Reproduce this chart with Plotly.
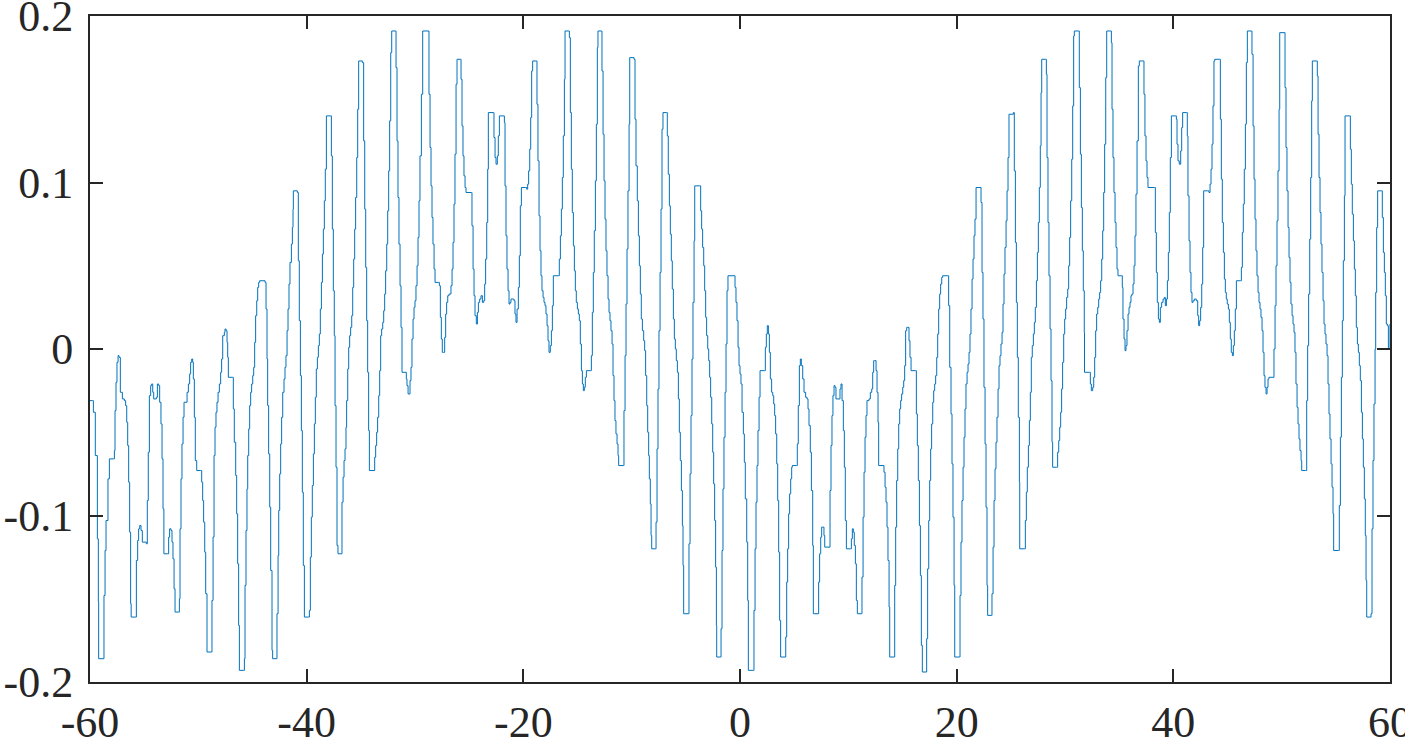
import plotly.graph_objects as go

# Signal, split by x range (x, value)
seg_a = [(-60.0, -0.031), (-59.78, -0.031), (-59.69, -0.038), (-59.51, -0.064), (-59.32, -0.114), (-59.23, -0.152),
         (-59.20, -0.186), (-58.80, -0.186), (-58.71, -0.148), (-58.61, -0.121), (-58.52, -0.103), (-58.34, -0.078),
         (-58.21, -0.066), (-57.84, -0.066), (-57.75, -0.061), (-57.69, -0.037), (-57.60, -0.020), (-57.51, -0.008),
         (-57.41, -0.004), (-57.32, -0.005), (-57.20, -0.026), (-57.01, -0.030), (-56.83, -0.031), (-56.71, -0.034),
         (-56.61, -0.044), (-56.52, -0.058), (-56.43, -0.080), (-56.34, -0.110), (-56.25, -0.153), (-56.20, -0.161),
         (-55.81, -0.161), (-55.72, -0.127), (-55.60, -0.115), (-55.51, -0.108), (-55.41, -0.106), (-55.29, -0.109),
         (-55.17, -0.116), (-54.80, -0.117), (-54.71, -0.091), (-54.62, -0.062), (-54.52, -0.028), (-54.40, -0.022),
         (-54.31, -0.021), (-54.21, -0.026), (-54.12, -0.030), (-53.88, -0.029), (-53.78, -0.021), (-53.66, -0.022),
         (-53.57, -0.032), (-53.45, -0.045), (-53.35, -0.066), (-53.26, -0.096), (-53.18, -0.123), (-52.83, -0.123),
         (-52.74, -0.113), (-52.65, -0.108), (-52.52, -0.109), (-52.43, -0.116), (-52.34, -0.126), (-52.24, -0.144),
         (-52.15, -0.158), (-51.85, -0.158), (-51.75, -0.150), (-51.69, -0.108), (-51.60, -0.078), (-51.51, -0.057),
         (-51.41, -0.041), (-51.32, -0.032), (-51.04, -0.026), (-50.92, -0.021), (-50.80, -0.015), (-50.71, -0.008),
         (-50.61, -0.006), (-50.52, -0.008), (-50.46, -0.018), (-50.37, -0.041), (-50.28, -0.067), (-50.15, -0.073),
         (-49.78, -0.073), (-49.69, -0.080), (-49.60, -0.091), (-49.51, -0.104), (-49.41, -0.122), (-49.32, -0.147),
         (-49.20, -0.182), (-48.80, -0.182), (-48.74, -0.151), (-48.64, -0.113), (-48.55, -0.064), (-48.46, -0.047),
         (-48.37, -0.038), (-48.28, -0.032), (-48.18, -0.026), (-48.06, -0.021), (-47.94, -0.014), (-47.85, -0.006)]

seg_b = [(-47.75, 0.008), (-47.60, 0.010), (-47.54, 0.012), (-47.44, 0.011), (-47.35, 0.004), (-47.29, -0.005),
         (-47.23, -0.017), (-46.86, -0.017), (-46.77, -0.036), (-46.68, -0.056), (-46.55, -0.076), (-46.46, -0.099),
         (-46.37, -0.129), (-46.28, -0.166), (-46.21, -0.193), (-45.81, -0.193), (-45.75, -0.186), (-45.69, -0.142),
         (-45.60, -0.109), (-45.51, -0.084), (-45.44, -0.064), (-45.35, -0.048), (-45.26, -0.034), (-45.17, -0.026),
         (-45.08, -0.021), (-44.98, -0.016), (-44.89, -0.011), (-44.80, 0.004), (-44.71, 0.020), (-44.61, 0.029),
         (-44.52, 0.037), (-44.43, 0.040), (-44.34, 0.041), (-43.84, 0.040), (-43.75, 0.024), (-43.66, -0.006),
         (-43.60, -0.034), (-43.51, -0.063), (-43.41, -0.095), (-43.32, -0.133), (-43.20, -0.181), (-43.14, -0.186),
         (-42.80, -0.186), (-42.74, -0.159), (-42.64, -0.124), (-42.58, -0.097), (-42.49, -0.075), (-42.40, -0.057),
         (-42.31, -0.041), (-42.21, -0.026), (-42.09, -0.018), (-42.00, -0.011), (-41.91, -0.004), (-41.81, 0.011),
         (-41.72, 0.024), (-41.63, 0.039), (-41.54, 0.052), (-41.41, 0.063), (-41.32, 0.073), (-41.26, 0.084),
         (-41.23, 0.095), (-40.86, 0.094), (-40.77, 0.053), (-40.68, 0.017), (-40.58, -0.016), (-40.49, -0.049),
         (-40.40, -0.086), (-40.31, -0.130), (-40.21, -0.161), (-39.85, -0.161), (-39.75, -0.157), (-39.66, -0.125),
         (-39.57, -0.101), (-39.48, -0.082), (-39.38, -0.063), (-39.29, -0.045), (-39.20, -0.029), (-39.11, -0.012),
         (-39.01, -0.005), (-38.92, 0.002), (-38.83, 0.009), (-38.74, 0.024), (-38.64, 0.040), (-38.55, 0.057),
         (-38.46, 0.072), (-38.37, 0.089), (-38.28, 0.108), (-38.18, 0.140), (-37.81, 0.140), (-37.72, 0.116),
         (-37.63, 0.072), (-37.54, 0.035), (-37.45, 0.008), (-37.38, -0.034), (-37.29, -0.071), (-37.20, -0.118),
         (-37.11, -0.123), (-36.83, -0.123), (-36.74, -0.092), (-36.64, -0.077), (-36.55, -0.067)]

seg_c = [(-36.46, -0.060), (-36.37, -0.047), (-36.31, -0.031), (-36.21, -0.012), (-36.12, 0.001), (-36.03, 0.008),
         (-35.94, 0.013), (-35.84, 0.020), (-35.75, 0.037), (-35.66, 0.054), (-35.57, 0.072), (-35.48, 0.091),
         (-35.38, 0.115), (-35.29, 0.144), (-35.20, 0.173), (-34.86, 0.172), (-34.74, 0.125), (-34.64, 0.084),
         (-34.55, 0.049), (-34.46, 0.017), (-34.37, -0.014), (-34.28, -0.049), (-34.21, -0.073), (-33.78, -0.073),
         (-33.72, -0.065), (-33.63, -0.058), (-33.54, -0.050), (-33.45, -0.041), (-33.35, -0.028), (-33.26, -0.013),
         (-33.17, 0.008), (-33.08, 0.012), (-32.98, 0.016), (-32.89, 0.023), (-32.80, 0.033), (-32.71, 0.047),
         (-32.61, 0.063), (-32.52, 0.083), (-32.43, 0.107), (-32.34, 0.137), (-32.24, 0.178), (-32.15, 0.191),
         (-31.81, 0.191), (-31.75, 0.169), (-31.66, 0.125), (-31.57, 0.091), (-31.48, 0.063), (-31.38, 0.038),
         (-31.29, 0.013), (-31.20, -0.014), (-30.80, -0.018), (-30.74, -0.022), (-30.64, -0.027), (-30.46, -0.019),
         (-30.37, -0.011), (-30.28, 0.006), (-30.18, 0.018), (-30.09, 0.025), (-30.00, 0.029), (-29.91, 0.038),
         (-29.81, 0.050), (-29.72, 0.067), (-29.63, 0.089), (-29.54, 0.116), (-29.41, 0.153), (-29.29, 0.191),
         (-28.80, 0.191), (-28.71, 0.153), (-28.61, 0.121), (-28.52, 0.098), (-28.43, 0.079), (-28.34, 0.063),
         (-28.24, 0.048), (-28.15, 0.040), (-27.85, 0.040), (-27.75, 0.038), (-27.66, 0.019), (-27.57, 0.006),
         (-27.48, -0.002), (-27.35, -0.002), (-27.26, 0.007), (-27.17, 0.021), (-27.08, 0.028), (-26.98, 0.032),
         (-26.86, 0.033), (-26.68, 0.038), (-26.58, 0.048), (-26.49, 0.064), (-26.40, 0.087), (-26.31, 0.117),
         (-26.21, 0.159), (-26.12, 0.174), (-25.81, 0.174), (-25.75, 0.162), (-25.66, 0.134), (-25.57, 0.116),
         (-25.48, 0.104), (-25.38, 0.097), (-25.29, 0.094), (-24.80, 0.094), (-24.74, 0.074), (-24.64, 0.048),
         (-24.55, 0.032)]

seg_d = [(-24.46, 0.020), (-24.34, 0.015), (-24.24, 0.022), (-24.15, 0.028), (-24.03, 0.030), (-23.91, 0.032),
         (-23.78, 0.028), (-23.66, 0.029), (-23.57, 0.039), (-23.48, 0.054), (-23.38, 0.076), (-23.29, 0.108),
         (-23.23, 0.142), (-22.77, 0.142), (-22.71, 0.127), (-22.61, 0.115), (-22.52, 0.111), (-22.40, 0.116),
         (-22.31, 0.128), (-22.21, 0.140), (-21.88, 0.140), (-21.75, 0.136), (-21.69, 0.098), (-21.60, 0.068),
         (-21.51, 0.048), (-21.41, 0.035), (-21.32, 0.027), (-21.23, 0.028), (-21.14, 0.030), (-20.86, 0.029),
         (-20.77, 0.021), (-20.68, 0.016), (-20.58, 0.024), (-20.46, 0.037), (-20.37, 0.056), (-20.28, 0.086),
         (-20.18, 0.097), (-19.78, 0.097), (-19.69, 0.096), (-19.60, 0.099), (-19.51, 0.107), (-19.41, 0.120),
         (-19.32, 0.139), (-19.23, 0.167), (-19.14, 0.173), (-18.80, 0.173), (-18.74, 0.147), (-18.65, 0.113),
         (-18.55, 0.080), (-18.46, 0.059), (-18.37, 0.044), (-18.28, 0.035), (-18.18, 0.031), (-18.09, 0.028),
         (-18.00, 0.026), (-17.91, 0.021), (-17.81, 0.014), (-17.72, 0.005), (-17.63, -0.002), (-17.51, 0.002),
         (-17.41, 0.011), (-17.32, 0.026), (-17.23, 0.044), (-16.77, 0.044), (-16.68, 0.054), (-16.58, 0.068),
         (-16.49, 0.084), (-16.40, 0.103), (-16.31, 0.128), (-16.21, 0.162), (-16.15, 0.191), (-15.81, 0.191),
         (-15.75, 0.187), (-15.66, 0.142), (-15.57, 0.108), (-15.48, 0.082), (-15.38, 0.062), (-15.29, 0.047),
         (-15.20, 0.035), (-15.11, 0.028), (-15.01, 0.024), (-14.92, 0.021), (-14.83, 0.017), (-14.74, 0.003),
         (-14.64, -0.013), (-14.55, -0.021), (-14.46, -0.025), (-14.37, -0.023), (-14.28, -0.017), (-14.18, -0.013),
         (-13.81, -0.013), (-13.72, -0.004), (-13.63, 0.022), (-13.54, 0.046), (-13.45, 0.071), (-13.35, 0.101),
         (-13.26, 0.135), (-13.17, 0.181), (-13.11, 0.191), (-12.80, 0.191), (-12.74, 0.167), (-12.64, 0.129),
         (-12.55, 0.101)]

seg_e = [(-12.46, 0.078), (-12.37, 0.059), (-12.28, 0.044), (-12.18, 0.030), (-12.09, 0.022), (-12.00, 0.017),
         (-11.91, 0.011), (-11.81, 0.003), (-11.72, -0.016), (-11.63, -0.031), (-11.54, -0.043), (-11.45, -0.051),
         (-11.35, -0.057), (-11.26, -0.064), (-11.20, -0.070), (-10.77, -0.070), (-10.71, -0.037), (-10.61, -0.004),
         (-10.52, 0.027), (-10.43, 0.060), (-10.34, 0.095), (-10.24, 0.135), (-10.18, 0.175), (-9.78, 0.174),
         (-9.69, 0.138), (-9.60, 0.110), (-9.48, 0.089), (-9.38, 0.068), (-9.29, 0.050), (-9.20, 0.033),
         (-9.11, 0.018), (-9.01, 0.011), (-8.89, 0.005), (-8.80, -0.001), (-8.71, -0.016), (-8.61, -0.034),
         (-8.52, -0.050), (-8.43, -0.064), (-8.37, -0.078), (-8.28, -0.093), (-8.21, -0.112), (-8.15, -0.120),
         (-7.81, -0.120), (-7.75, -0.104), (-7.66, -0.060), (-7.57, -0.024), (-7.48, 0.011), (-7.38, 0.046),
         (-7.29, 0.084), (-7.20, 0.132), (-7.11, 0.142), (-6.80, 0.142), (-6.71, 0.128), (-6.62, 0.105),
         (-6.52, 0.086), (-6.43, 0.069), (-6.34, 0.053), (-6.25, 0.036), (-6.15, 0.018), (-6.06, 0.006),
         (-5.97, 0.000), (-5.88, -0.007), (-5.78, -0.014), (-5.69, -0.030), (-5.60, -0.050), (-5.51, -0.067),
         (-5.41, -0.085), (-5.32, -0.106), (-5.26, -0.130), (-5.20, -0.159), (-4.77, -0.159), (-4.71, -0.117),
         (-4.61, -0.075), (-4.52, -0.040), (-4.43, -0.006), (-4.34, 0.028), (-4.24, 0.065), (-4.18, 0.098),
         (-3.72, 0.098), (-3.63, 0.083), (-3.54, 0.072), (-3.45, 0.061), (-3.35, 0.050), (-3.26, 0.035),
         (-3.17, 0.019), (-3.08, 0.008), (-2.98, 0.000), (-2.89, -0.007), (-2.80, -0.017), (-2.71, -0.029),
         (-2.61, -0.045), (-2.52, -0.062), (-2.43, -0.081), (-2.34, -0.103), (-2.25, -0.131), (-2.18, -0.166),
         (-2.15, -0.185), (-1.81, -0.185), (-1.75, -0.168), (-1.66, -0.121), (-1.57, -0.084), (-1.48, -0.053),
         (-1.38, -0.026), (-1.29, 0.003), (-1.20, 0.035), (-1.11, 0.044), (-0.55, 0.044)]

seg_f = [(-0.46, 0.037), (-0.37, 0.028), (-0.28, 0.017), (-0.18, 0.001), (-0.09, -0.010), (0.00, -0.015),
         (0.09, -0.021), (0.19, -0.038), (0.31, -0.051), (0.40, -0.068), (0.49, -0.090), (0.62, -0.116),
         (0.71, -0.151), (0.77, -0.193), (1.23, -0.193), (1.29, -0.157), (1.39, -0.120), (1.48, -0.092),
         (1.57, -0.070), (1.66, -0.049), (1.76, -0.029), (1.85, -0.013), (2.28, -0.013), (2.34, 0.001),
         (2.43, 0.009), (2.52, 0.014), (2.62, 0.009), (2.71, -0.002), (2.80, -0.018), (2.92, -0.026),
         (3.02, -0.028), (3.11, -0.033), (3.20, -0.040), (3.29, -0.051), (3.39, -0.069), (3.48, -0.091),
         (3.57, -0.122), (3.66, -0.163), (3.75, -0.185), (4.15, -0.185), (4.22, -0.173), (4.31, -0.140),
         (4.40, -0.120), (4.49, -0.099), (4.58, -0.087), (4.68, -0.078), (4.77, -0.071), (4.83, -0.070),
         (5.20, -0.070), (5.29, -0.057), (5.38, -0.034), (5.48, -0.010), (5.57, -0.006), (5.66, -0.010),
         (5.79, -0.018), (5.91, -0.026), (6.06, -0.029), (6.19, -0.030), (6.28, -0.036), (6.37, -0.046),
         (6.49, -0.062), (6.59, -0.085), (6.71, -0.118), (6.77, -0.159), (7.20, -0.159), (7.26, -0.140),
         (7.35, -0.123), (7.45, -0.113), (7.54, -0.107), (7.66, -0.107), (7.75, -0.112), (7.82, -0.119),
         (8.22, -0.119), (8.31, -0.085), (8.40, -0.058), (8.49, -0.040), (8.58, -0.028), (8.68, -0.022),
         (8.77, -0.023), (8.86, -0.030), (9.14, -0.030), (9.23, -0.024), (9.32, -0.021), (9.42, -0.031),
         (9.54, -0.049), (9.63, -0.071), (9.72, -0.103), (9.82, -0.120), (10.19, -0.120), (10.28, -0.114),
         (10.37, -0.108), (10.46, -0.110), (10.55, -0.118), (10.65, -0.129), (10.74, -0.151), (10.83, -0.159),
         (11.20, -0.159), (11.26, -0.137), (11.36, -0.101), (11.45, -0.074)]

seg_g = [(11.54, -0.053), (11.63, -0.040), (11.72, -0.031), (11.91, -0.030), (12.03, -0.026), (12.16, -0.024),
         (12.25, -0.014), (12.34, -0.007), (12.43, -0.007), (12.56, -0.013), (12.65, -0.026), (12.74, -0.044),
         (12.80, -0.070), (13.20, -0.070), (13.29, -0.074), (13.39, -0.083), (13.48, -0.092), (13.57, -0.107),
         (13.66, -0.127), (13.76, -0.155), (13.82, -0.185), (14.22, -0.185), (14.28, -0.142), (14.37, -0.107),
         (14.46, -0.079), (14.56, -0.060), (14.65, -0.045), (14.74, -0.036), (14.83, -0.031), (14.92, -0.027),
         (15.02, -0.023), (15.11, -0.019), (15.20, -0.010), (15.29, 0.011), (15.39, 0.013), (15.48, 0.013),
         (15.60, 0.005), (15.69, -0.005), (15.79, -0.013), (16.19, -0.013), (16.28, -0.039), (16.37, -0.058),
         (16.46, -0.079), (16.56, -0.106), (16.65, -0.136), (16.74, -0.178), (16.83, -0.194), (17.17, -0.194),
         (17.23, -0.174), (17.32, -0.132), (17.42, -0.103), (17.51, -0.079), (17.60, -0.060), (17.69, -0.045),
         (17.79, -0.032), (17.88, -0.025), (17.97, -0.021), (18.06, -0.016), (18.16, -0.005), (18.25, 0.009),
         (18.34, 0.024), (18.43, 0.033), (18.52, 0.039), (18.62, 0.043), (18.71, 0.044), (19.17, 0.044),
         (19.26, 0.026), (19.36, -0.011), (19.48, -0.039), (19.57, -0.069), (19.66, -0.101), (19.76, -0.142),
         (19.82, -0.185), (20.25, -0.185), (20.31, -0.148), (20.40, -0.116), (20.49, -0.091), (20.59, -0.071),
         (20.68, -0.053), (20.77, -0.036), (20.86, -0.021), (20.96, -0.014), (21.05, -0.009), (21.14, -0.002),
         (21.23, 0.009), (21.32, 0.024), (21.42, 0.042), (21.51, 0.054), (21.60, 0.068), (21.69, 0.078),
         (21.79, 0.097), (22.15, 0.097), (22.25, 0.088), (22.34, 0.046), (22.43, 0.018), (22.52, -0.023),
         (22.62, -0.057), (22.71, -0.095), (22.80, -0.142), (22.86, -0.160), (23.20, -0.160), (23.26, -0.147),
         (23.36, -0.119), (23.45, -0.091)]

seg_h = [(23.54, -0.072), (23.63, -0.056), (23.72, -0.041), (23.82, -0.024), (23.91, -0.010), (24.00, -0.004),
         (24.09, 0.003), (24.19, 0.010), (24.28, 0.027), (24.37, 0.045), (24.46, 0.061), (24.56, 0.077),
         (24.65, 0.095), (24.74, 0.115), (24.83, 0.141), (25.23, 0.142), (25.32, 0.107), (25.42, 0.064),
         (25.51, 0.028), (25.60, -0.005), (25.69, -0.041), (25.79, -0.080), (25.82, -0.120), (26.25, -0.120),
         (26.34, -0.103), (26.43, -0.086), (26.52, -0.071), (26.62, -0.058), (26.71, -0.043), (26.80, -0.026),
         (26.89, -0.005), (26.98, 0.002), (27.08, 0.009), (27.17, 0.016), (27.26, 0.025), (27.36, 0.041),
         (27.45, 0.058), (27.54, 0.076), (27.63, 0.097), (27.72, 0.122), (27.79, 0.154), (27.85, 0.174),
         (28.19, 0.174), (28.28, 0.165), (28.34, 0.115), (28.43, 0.076), (28.52, 0.044), (28.62, 0.012),
         (28.71, -0.019), (28.80, -0.056), (28.86, -0.071), (29.23, -0.071), (29.32, -0.062), (29.42, -0.055),
         (29.51, -0.047), (29.60, -0.038), (29.69, -0.024), (29.78, -0.008), (29.88, 0.009), (29.97, 0.018),
         (30.06, 0.024), (30.15, 0.031), (30.25, 0.036), (30.34, 0.050), (30.43, 0.067), (30.52, 0.089),
         (30.62, 0.114), (30.71, 0.146), (30.80, 0.188), (30.86, 0.191), (31.23, 0.191), (31.32, 0.157),
         (31.42, 0.117), (31.51, 0.085), (31.60, 0.059), (31.69, 0.035), (31.78, 0.010), (31.80, -0.014),
         (32.25, -0.014), (32.34, -0.021), (32.43, -0.025), (32.56, -0.023), (32.65, -0.017), (32.74, -0.005),
         (32.83, 0.011), (32.92, 0.021), (33.02, 0.025), (33.11, 0.030), (33.20, 0.034), (33.29, 0.041),
         (33.39, 0.054), (33.48, 0.071), (33.57, 0.094), (33.66, 0.123), (33.76, 0.163), (33.85, 0.191),
         (34.19, 0.191), (34.28, 0.184), (34.34, 0.144), (34.43, 0.115), (34.52, 0.094), (34.62, 0.076),
         (34.71, 0.061), (34.80, 0.048), (34.89, 0.044), (35.23, 0.044), (35.29, 0.037), (35.35, 0.018),
         (35.45, 0.006)]

seg_i = [(35.54, -0.001), (35.63, 0.002), (35.72, 0.011), (35.82, 0.021), (35.91, 0.025), (36.00, 0.028),
         (36.09, 0.032), (36.18, 0.033), (36.28, 0.039), (36.37, 0.050), (36.46, 0.068), (36.55, 0.093),
         (36.65, 0.125), (36.77, 0.170), (36.86, 0.173), (37.23, 0.173), (37.29, 0.153), (37.38, 0.128),
         (37.48, 0.113), (37.57, 0.103), (37.66, 0.097), (38.25, 0.097), (38.34, 0.070), (38.43, 0.046),
         (38.52, 0.028), (38.62, 0.018), (38.71, 0.016), (38.80, 0.025), (38.92, 0.028), (39.05, 0.030),
         (39.17, 0.031), (39.26, 0.026), (39.36, 0.030), (39.45, 0.041), (39.54, 0.058), (39.63, 0.082),
         (39.72, 0.115), (39.82, 0.140), (40.19, 0.140), (40.28, 0.138), (40.34, 0.123), (40.43, 0.113),
         (40.55, 0.111), (40.68, 0.119), (40.77, 0.133), (40.86, 0.142), (41.20, 0.142), (41.29, 0.128),
         (41.35, 0.092), (41.45, 0.065), (41.54, 0.046), (41.63, 0.034), (41.72, 0.028), (41.82, 0.029),
         (41.94, 0.030), (42.12, 0.029), (42.25, 0.020), (42.34, 0.014), (42.43, 0.017), (42.52, 0.025),
         (42.62, 0.039), (42.71, 0.061), (42.80, 0.095), (43.17, 0.095), (43.29, 0.094), (43.39, 0.099),
         (43.48, 0.108), (43.57, 0.123), (43.66, 0.146), (43.75, 0.173), (43.82, 0.174), (44.25, 0.174),
         (44.34, 0.138), (44.43, 0.102), (44.52, 0.076), (44.62, 0.058), (44.71, 0.042), (44.80, 0.034),
         (44.89, 0.030), (44.98, 0.027), (45.08, 0.024), (45.17, 0.016), (45.26, 0.006), (45.35, -0.002),
         (45.45, -0.004), (45.54, 0.002), (45.63, 0.011), (45.72, 0.024), (45.82, 0.041), (46.19, 0.041),
         (46.28, 0.049), (46.37, 0.070), (46.46, 0.087), (46.55, 0.108), (46.65, 0.135), (46.74, 0.172),
         (46.83, 0.191), (47.20, 0.191), (47.26, 0.177), (47.36, 0.134), (47.45, 0.102)]

seg_j = [(47.54, 0.078), (47.63, 0.059), (47.72, 0.044), (47.82, 0.034), (47.91, 0.028), (48.00, 0.024),
         (48.09, 0.019), (48.19, 0.011), (48.28, -0.002), (48.37, -0.016), (48.46, -0.023), (48.56, -0.027),
         (48.65, -0.023), (48.74, -0.018), (48.83, -0.017), (49.20, -0.017), (49.29, 0.000), (49.39, 0.026),
         (49.48, 0.050), (49.57, 0.077), (49.66, 0.107), (49.76, 0.144), (49.82, 0.190), (50.22, 0.190),
         (50.31, 0.157), (50.40, 0.121), (50.49, 0.095), (50.59, 0.073), (50.68, 0.055), (50.77, 0.040),
         (50.86, 0.027), (50.96, 0.020), (51.05, 0.015), (51.14, 0.010), (51.23, -0.002), (51.32, -0.021),
         (51.42, -0.035), (51.51, -0.045), (51.60, -0.054), (51.69, -0.061), (51.79, -0.067), (51.85, -0.073),
         (52.22, -0.073), (52.31, -0.031), (52.40, 0.002), (52.49, 0.033), (52.59, 0.066), (52.68, 0.103),
         (52.77, 0.149), (52.83, 0.173), (53.23, 0.173), (53.29, 0.164), (53.36, 0.129), (53.45, 0.103),
         (53.54, 0.082), (53.63, 0.063), (53.72, 0.046), (53.82, 0.029), (53.91, 0.015), (54.00, 0.009),
         (54.09, 0.003), (54.19, -0.004), (54.28, -0.021), (54.37, -0.039), (54.46, -0.054), (54.56, -0.069),
         (54.65, -0.083), (54.74, -0.099), (54.80, -0.121), (55.26, -0.121), (55.32, -0.094), (55.42, -0.053),
         (55.51, -0.017), (55.60, 0.017), (55.69, 0.053), (55.79, 0.092), (55.85, 0.140), (56.25, 0.140),
         (56.34, 0.120), (56.43, 0.099), (56.52, 0.081), (56.62, 0.065), (56.71, 0.048), (56.80, 0.032),
         (56.89, 0.013), (56.99, 0.003), (57.08, -0.002), (57.17, -0.010), (57.26, -0.019), (57.36, -0.038),
         (57.45, -0.054), (57.54, -0.071), (57.63, -0.090), (57.72, -0.112), (57.79, -0.139), (57.85, -0.161),
         (58.19, -0.161), (58.25, -0.159), (58.34, -0.108), (58.43, -0.067), (58.52, -0.033), (58.62, 0.000),
         (58.68, 0.034), (58.77, 0.073), (58.86, 0.095), (59.20, 0.095), (59.29, 0.079), (59.39, 0.058),
         (59.48, 0.046), (59.57, 0.032), (59.66, 0.015), (59.76, 0.014), (59.85, 0.000), (59.95, 0.000),
         (60.0, 0.015)]

x_ticks = [-60, -40, -20, 0, 20, 40, 60]
x_labels = ['-60', '-40', '-20', '0', '20', '40', '60']
y_ticks = [-0.2, -0.1, 0, 0.1, 0.2]
y_labels = ['-0.2', '-0.1', '0', '0.1', '0.2']

points = seg_a + seg_b + seg_c + seg_d + seg_e + seg_f + seg_g + seg_h + seg_i + seg_j
xs = [p[0] for p in points]
ys = [p[1] for p in points]

fig = go.Figure()
fig.add_trace(go.Scatter(
    x=xs, y=ys, mode='lines',
    line=dict(color='#0072BD', width=1, shape='hv'),
    hoverinfo='none'
))

axis_style = dict(
    showline=True, linecolor='#262626', linewidth=2, mirror='ticks',
    ticks='inside', ticklen=13, tickwidth=2, tickcolor='#262626',
    showgrid=False, zeroline=False, automargin=False,
    ticklabeloverflow='allow',
    tickfont=dict(family='Liberation Serif', size=44, color='#262626'),
)

fig.update_xaxes(range=[-60, 60], tickvals=x_ticks, ticktext=x_labels, ticklabelstandoff=0, **axis_style)
fig.update_yaxes(range=[-0.2, 0.2], tickvals=y_ticks, ticktext=y_labels, ticklabelstandoff=6, **axis_style)

fig.update_layout(
    width=1405, height=749,
    showlegend=False,
    plot_bgcolor='white', paper_bgcolor='white',
    margin=dict(l=90, r=15, t=16, b=67)
)

# drop the browser's default page margin so the figure sits at the window's corner
fig.write_html("out.html", config={'displayModeBar': False},
               post_script="document.body.style.margin='0';document.body.style.overflow='hidden';")
